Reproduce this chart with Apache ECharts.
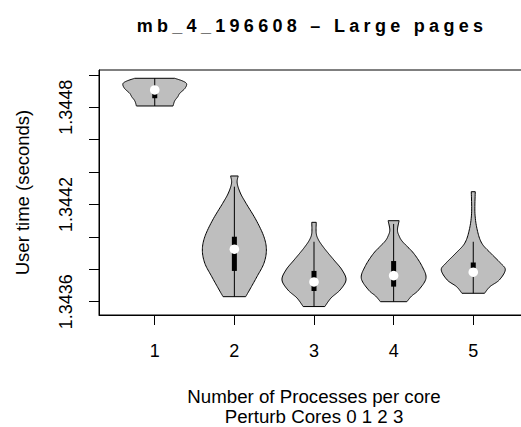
<!DOCTYPE html>
<html><head><meta charset="utf-8">
<script src="https://cdn.jsdelivr.net/npm/echarts@6/dist/echarts.min.js"></script>
<style>
html,body{margin:0;padding:0;background:#fff}
#main{width:521px;height:427px}
</style>
</head><body><div id="main"></div>
<script>
// ---- data ----
const categories = [1, 2, 3, 4, 5];
const yTicks = [1.3436, 1.3438, 1.3440, 1.3442, 1.3444, 1.3446, 1.3448, 1.3450];
const yTickLabels = [1.3436, 1.3442, 1.3448];
const titleText = 'mb_4_196608 \u2013 Large pages';
const yName = 'User time (seconds)';
const xNameLine1 = 'Number of Processes per core';
const xNameLine2 = 'Perturb Cores 0 1 2 3';

// density outlines: levels (seconds, bottom -> top) and half-widths (x units)
const v1Levels = [1.344808, 1.344839, 1.344865, 1.344886, 1.344917, 1.344945, 1.344962, 1.344979];
const v1Widths = [0.23, 0.25, 0.289, 0.314, 0.38, 0.40, 0.352, 0.251];
const v2Levels = [1.343631, 1.343672, 1.343754, 1.343837, 1.343919, 1.344001, 1.344104, 1.344207, 1.344271, 1.344333, 1.344376];
const v2Widths = [0.142, 0.19, 0.283, 0.371, 0.402, 0.371, 0.273, 0.147, 0.075, 0.035, 0.048];
const v3Levels = [1.343570, 1.343623, 1.343672, 1.343734, 1.343796, 1.343857, 1.343901, 1.343940, 1.343981, 1.344022, 1.344090];
const v3Widths = [0.136, 0.214, 0.327, 0.402, 0.352, 0.251, 0.176, 0.113, 0.057, 0.028, 0.028];
const v4Levels = [1.343600, 1.343635, 1.343672, 1.343744, 1.343816, 1.343899, 1.343970, 1.344006, 1.344043, 1.344100];
const v4Widths = [0.166, 0.226, 0.314, 0.406, 0.36, 0.251, 0.113, 0.069, 0.048, 0.069];
const v5Levels = [1.343652, 1.343693, 1.343734, 1.343796, 1.343837, 1.343899, 1.343961, 1.344043, 1.344146, 1.344279];
const v5Widths = [0.142, 0.21, 0.327, 0.402, 0.345, 0.22, 0.107, 0.05, 0.021, 0.025];

const medians     = [1.344907, 1.343924, 1.343722, 1.343761, 1.343782];
const q1s         = [1.344856, 1.343790, 1.343666, 1.343693, 1.343759];
const q3s         = [1.344915, 1.344001, 1.343790, 1.343851, 1.343842];
const whiskerLow  = [1.344808, 1.343631, 1.343570, 1.343600, 1.343652];
const whiskerHigh = [1.344979, 1.344310, 1.343970, 1.344080, 1.343970];

const profiles = [[v1Levels, v1Widths], [v2Levels, v2Widths], [v3Levels, v3Widths], [v4Levels, v4Widths], [v5Levels, v5Widths]];

// ---- rendering helpers ----
function catmull(pts, out) {
  const n = pts.length;
  for (let i = 0; i < n - 1; i++) {
    const p0 = pts[Math.max(i - 1, 0)], p1 = pts[i], p2 = pts[i + 1], p3 = pts[Math.min(i + 2, n - 1)];
    const c1 = [p1[0] + (p2[0] - p0[0]) / 6, p1[1] + (p2[1] - p0[1]) / 6];
    const c2 = [p2[0] - (p3[0] - p1[0]) / 6, p2[1] - (p3[1] - p1[1]) / 6];
    const steps = 10;
    for (let s = (i === 0 ? 0 : 1); s <= steps; s++) {
      const t = s / steps, u = 1 - t;
      out.push([
        u*u*u*p1[0] + 3*u*u*t*c1[0] + 3*u*t*t*c2[0] + t*t*t*p2[0],
        u*u*u*p1[1] + 3*u*u*t*c1[1] + 3*u*t*t*c2[1] + t*t*t*p2[1]
      ]);
    }
  }
}

const FONT = '"Liberation Sans", Arial, Helvetica, sans-serif';
const chart = echarts.init(document.getElementById('main'), null, {renderer: 'svg'});
chart.setOption({
  animation: false,
  backgroundColor: '#fff',
  textStyle: {fontFamily: FONT},
  grid: {left: 99, top: 70, width: 430, height: 245, show: true, borderColor: '#000', borderWidth: 1,
    backgroundColor: 'transparent', containLabel: false, outerBoundsMode: 'none'},
  graphic: [{
    type: 'text', x: 312, y: 26,
    style: {text: titleText, font: 'bold 18px ' + FONT, fill: '#000', textAlign: 'center', textVerticalAlign: 'middle'}
  }],
  xAxis: {
    type: 'value', min: 0.3, max: 5.7,
    axisLine: {show: true, lineStyle: {color: '#000', width: 1}},
    axisTick: {show: true, customValues: categories, length: 10, lineStyle: {color: '#000'}},
    axisLabel: {customValues: categories, color: '#000', fontSize: 18, margin: 27, fontFamily: FONT},
    splitLine: {show: false},
    name: '{a|' + xNameLine1 + '}\n{b|' + xNameLine2 + '}', nameLocation: 'middle', nameGap: 67,
    nameTextStyle: {color: '#000', fontSize: 18.7, fontFamily: FONT,
      rich: {a: {fontSize: 18.7, lineHeight: 29, color: '#000', fontFamily: FONT},
             b: {fontSize: 18.7, lineHeight: 10, color: '#000', fontFamily: FONT}}}
  },
  yAxis: {
    type: 'value', min: 1.3435179, max: 1.3450302,
    axisLine: {show: true, lineStyle: {color: '#000', width: 1}},
    axisTick: {show: true, customValues: yTicks, length: 10, lineStyle: {color: '#000'}},
    axisLabel: {customValues: yTickLabels, rotate: 90, color: '#000', fontSize: 18, margin: 24, fontFamily: FONT,
      formatter: v => Number(v).toFixed(4)},
    splitLine: {show: false},
    name: yName, nameLocation: 'middle', nameGap: 67.5,
    nameTextStyle: {color: '#000', fontSize: 18.5, fontFamily: FONT}
  },
  series: [{
    type: 'custom',
    data: categories.map(c => [c]),
    encode: {x: 0},
    renderItem: function (params, api) {
      const i = params.dataIndex;
      const x = api.value(0);
      const lv = profiles[i][0], wd = profiles[i][1];
      const right = lv.map((v, k) => api.coord([x + wd[k], v]));
      const left = lv.map((v, k) => api.coord([x - wd[k], v])).reverse();
      const pts = [];
      catmull(right, pts);
      catmull(left, pts);
      const lo = api.coord([x, whiskerLow[i]]), hi = api.coord([x, whiskerHigh[i]]);
      const b1 = api.coord([x, q3s[i]]), b2 = api.coord([x, q1s[i]]);
      const m = api.coord([x, medians[i]]);
      return {
        type: 'group',
        children: [
          {type: 'polygon', shape: {points: pts}, style: {fill: '#BEBEBE', stroke: '#000', lineWidth: 1}},
          {type: 'line', shape: {x1: lo[0], y1: lo[1], x2: hi[0], y2: hi[1]}, style: {stroke: '#000', lineWidth: 1}},
          {type: 'rect', shape: {x: b1[0] - 2.5, y: b1[1], width: 5, height: b2[1] - b1[1]}, style: {fill: '#000'}},
          {type: 'circle', shape: {cx: m[0], cy: m[1], r: 4.8}, style: {fill: '#fff'}}
        ]
      };
    }
  }]
});
function spaceTitle() {
  document.querySelectorAll('#main text').forEach(t => {
    if (t.textContent.indexOf('mb_4') === 0) t.style.letterSpacing = '4.3px';
  });
}
chart.on('finished', spaceTitle);
spaceTitle();
setTimeout(spaceTitle, 50);
</script>
</body></html>
